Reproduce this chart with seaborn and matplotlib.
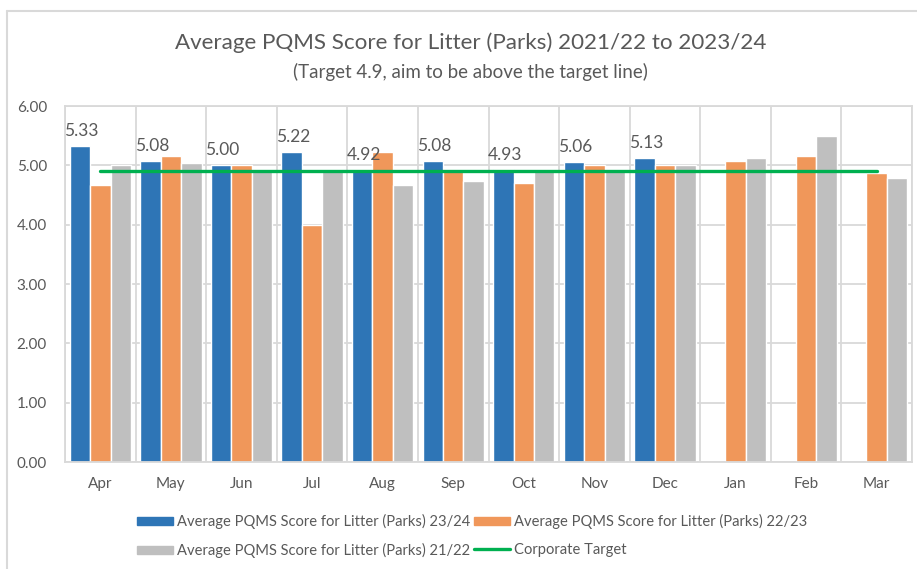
import numpy as np
import pandas as pd
import matplotlib.pyplot as plt
from matplotlib.patches import Patch
from matplotlib.lines import Line2D
import seaborn as sns

months = ["Apr", "May", "Jun", "Jul", "Aug", "Sep", "Oct", "Nov", "Dec", "Jan", "Feb", "Mar"]
score_2324 = [5.33, 5.08, 5.00, 5.22, 4.92, 5.08, 4.93, 5.06, 5.13, np.nan, np.nan, np.nan]
score_2223 = [4.67, 5.16, 5.00, 4.00, 5.23, 4.90, 4.70, 5.00, 5.00, 5.08, 5.16, 4.87]
score_2122 = [5.00, 5.04, 4.90, 4.90, 4.67, 4.73, 4.90, 4.90, 5.00, 5.12, 5.49, 4.79]
target = [4.9] * 12

s1 = "Average PQMS Score for Litter (Parks) 23/24"
s2 = "Average PQMS Score for Litter (Parks) 22/23"
s3 = "Average PQMS Score for Litter (Parks) 21/22"
colors = ["#2E75B6", "#F0975A", "#BFBFBF"]
green = "#00B050"
txt = "#595959"
grid_c = "#D9D9D9"

df = pd.DataFrame({
    "month": months * 3,
    "series": [s1] * 12 + [s2] * 12 + [s3] * 12,
    "score": score_2324 + score_2223 + score_2122,
})

sns.set_style("white")
plt.rcParams["font.family"] = ["Lato", "DejaVu Sans"]

fig = plt.figure(figsize=(9.17, 5.69), dpi=100)
ax = fig.add_axes([65 / 917, 1 - 462 / 569, 847 / 917, 356 / 569])

sns.barplot(data=df, x="month", y="score", hue="series", order=months,
            hue_order=[s1, s2, s3], palette=colors, saturation=1,
            width=0.87, legend=False, ax=ax, zorder=2)

# value labels only for the current year
for bar in ax.containers[0]:
    if bar is None or np.isnan(bar.get_height()):
        continue
    ax.annotate(f"{bar.get_height():.2f}", (bar.get_x() + bar.get_width() / 2, bar.get_height()),
                xytext=(1, 5), textcoords="offset points", ha="center", va="bottom",
                fontsize=12.5, color=txt)

ax.plot(range(12), target, color=green, lw=2.4, zorder=3, solid_capstyle="round")

ax.set_xlim(-0.5, 11.5)
ax.set_ylim(0, 6)
ax.set_yticks(np.arange(0, 6.01, 1))
ax.set_yticklabels([f"{v:.2f}" for v in np.arange(0, 6.01, 1)])
ax.set_xticks(np.arange(-0.5, 12, 1), minor=True)
ax.grid(axis="y", color=grid_c, lw=1.3, zorder=0)
ax.grid(axis="x", which="minor", color=grid_c, lw=1.3, zorder=0)
ax.grid(axis="x", which="major", visible=False)
for sp in ax.spines.values():
    sp.set_color(grid_c)
    sp.set_linewidth(1.3)
ax.tick_params(axis="x", which="major", length=0, pad=11, labelsize=11, labelcolor=txt)
ax.tick_params(axis="x", which="minor", length=5, width=1.3, color=grid_c, direction="out")
ax.tick_params(axis="y", length=0, pad=13, labelsize=11, labelcolor=txt)
ax.set_xlabel("")
ax.set_ylabel("")

fig.text(0.513, 1 - 43 / 569, "Average PQMS Score for Litter (Parks) 2021/22 to 2023/24",
         ha="center", va="center", fontsize=16.1, color=txt)
fig.text(0.513, 1 - 72 / 569, "(Target 4.9, aim to be above the target line)",
         ha="center", va="center", fontsize=13.5, color=txt)

handles = [Patch(color=colors[0]), Patch(color=colors[2]),
           Patch(color=colors[1]), Line2D([], [], color=green, lw=2.4)]
labels = [s1, s3, s2, "Corporate Target"]
fig.legend(handles, labels, ncol=2, loc="center", bbox_to_anchor=(0.515, 1 - 536 / 569),
           frameon=False, fontsize=10.6, labelcolor=txt, handlelength=2.45, handleheight=0.5,
           handletextpad=0.25, columnspacing=0.25, labelspacing=0.95)

# chart-area frame (top and left edges visible)
fig.add_artist(Line2D([7 / 917, 1], [1 - 11 / 569] * 2, transform=fig.transFigure, color=grid_c, lw=1.5))
fig.add_artist(Line2D([7 / 917] * 2, [0, 1 - 11 / 569], transform=fig.transFigure, color=grid_c, lw=1.5))

fig.savefig("out.png", dpi=100)
